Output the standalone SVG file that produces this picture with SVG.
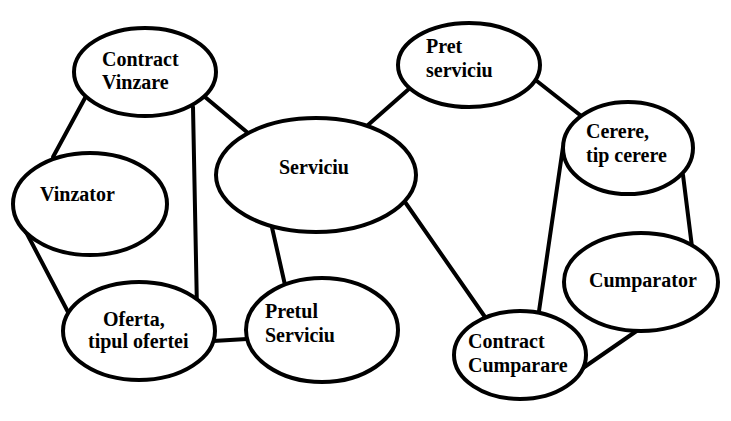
<svg xmlns="http://www.w3.org/2000/svg" width="731" height="421" viewBox="0 0 731 421">
<style>
.n{fill:#fff;stroke:#000;stroke-width:4}
.e line{stroke:#000;stroke-width:4;stroke-linecap:round}
.t{font-family:'Liberation Serif','Times New Roman','DejaVu Serif',serif;font-weight:700;font-size:20px;fill:#000}
</style>
<rect width="731" height="421" fill="#fff"/>
<g class="e" id="connectors">
<line x1="85" y1="98" x2="53" y2="157"/>
<line x1="205" y1="97" x2="248" y2="133"/>
<line x1="193" y1="107" x2="197" y2="310"/>
<line x1="25" y1="230" x2="68" y2="312"/>
<line x1="213" y1="341" x2="247" y2="339"/>
<line x1="271" y1="223" x2="285" y2="285"/>
<line x1="368" y1="125" x2="410" y2="88"/>
<line x1="405" y1="202" x2="485" y2="317"/>
<line x1="533" y1="78" x2="580" y2="115"/>
<line x1="563" y1="147" x2="538" y2="318"/>
<line x1="683" y1="175" x2="692" y2="247"/>
<line x1="638" y1="330" x2="583" y2="368"/>
</g>
<g class="t" font-family="Liberation Serif, serif">
<g id="contract-vinzare"><ellipse class="n" cx="145" cy="72" rx="71" ry="44"/><text x="102" y="66">Contract</text><text x="102" y="89">Vinzare</text></g>
<g id="vinzator"><ellipse class="n" cx="90" cy="204" rx="77" ry="51"/><text x="40" y="201">Vinzator</text></g>
<g id="oferta"><ellipse class="n" cx="139" cy="331" rx="76" ry="49"/><text x="103" y="326">Oferta,</text><text x="88" y="348">tipul ofertei</text></g>
<g id="serviciu"><ellipse class="n" cx="316" cy="175" rx="100" ry="57"/><text x="279" y="174">Serviciu</text></g>
<g id="pretul-serviciu"><ellipse class="n" cx="322" cy="330" rx="76" ry="52"/><text x="265" y="318">Pretul</text><text x="265" y="342">Serviciu</text></g>
<g id="pret-serviciu"><ellipse class="n" cx="469" cy="65" rx="71" ry="42"/><text x="426" y="53">Pret</text><text x="426" y="77">serviciu</text></g>
<g id="cerere"><ellipse class="n" cx="628" cy="148" rx="65" ry="46"/><text x="586" y="138">Cerere,</text><text x="586" y="162">tip cerere</text></g>
<g id="cumparator"><ellipse class="n" cx="641" cy="282" rx="77" ry="49"/><text x="589" y="287">Cumparator</text></g>
<g id="contract-cumparare"><ellipse class="n" cx="520" cy="355" rx="66" ry="44"/><text x="468" y="348">Contract</text><text x="468" y="372">Cumparare</text></g>
</g>
</svg>
